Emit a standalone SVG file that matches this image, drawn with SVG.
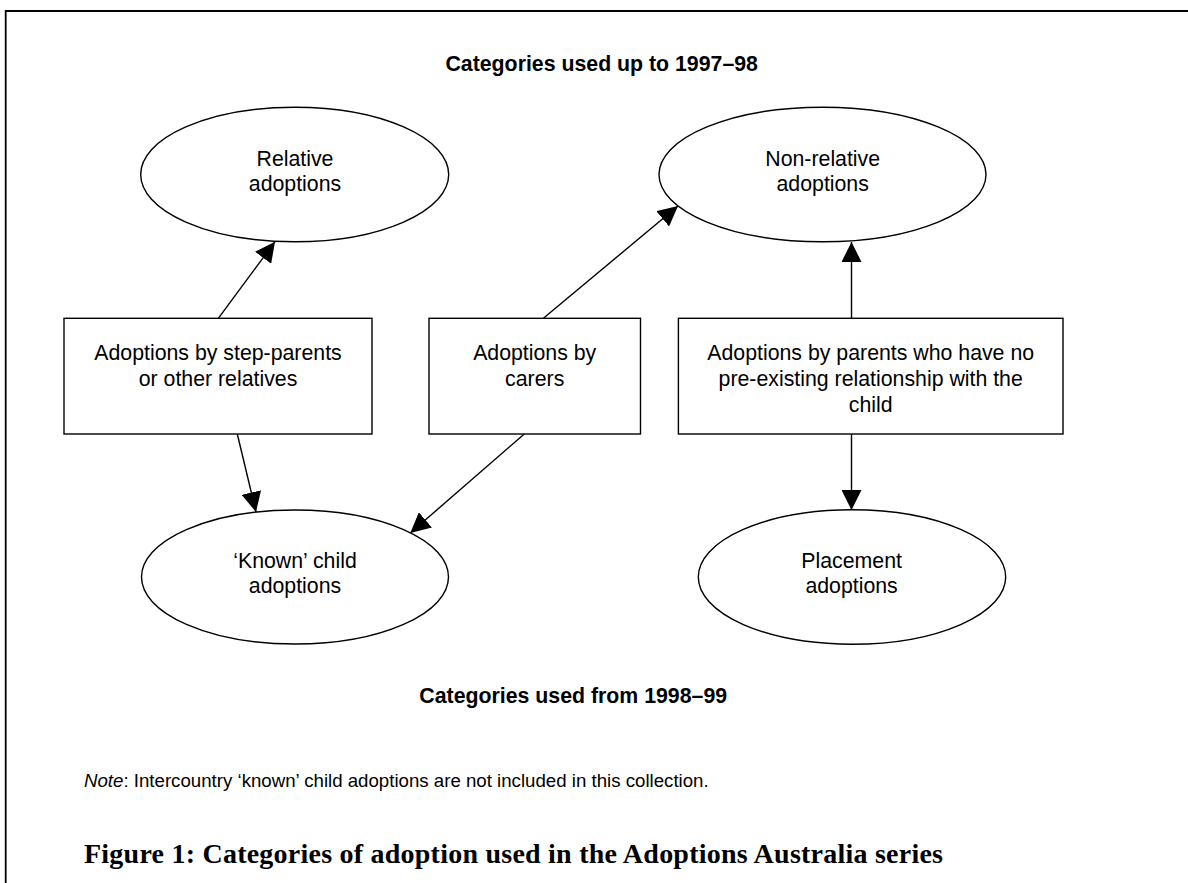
<svg xmlns="http://www.w3.org/2000/svg" width="1188" height="883" viewBox="0 0 1188 883">
<style>
.shape{fill:#fff;stroke:#000;stroke-width:1.4}
.lbl{font-family:"Liberation Sans",Arial,sans-serif;font-size:21.3px;fill:#000;text-anchor:middle}
.hdr{font-family:"Liberation Sans",Arial,sans-serif;font-size:21.3px;font-weight:bold;fill:#000;text-anchor:middle}
.note{font-family:"Liberation Sans",Arial,sans-serif;font-size:18.67px;fill:#000}
.cap{font-family:"Liberation Serif","Times New Roman",serif;font-size:28px;font-weight:bold;fill:#000}
.conn{stroke:#000;stroke-width:1.4;fill:none;marker-end:url(#arr)}
</style>
<defs>
<marker id="arr" markerUnits="userSpaceOnUse" markerWidth="20" markerHeight="20" refX="20" refY="10" orient="auto">
<path d="M0,0 L20,10 L0,20 Z" fill="#000"/>
</marker>
</defs>
<rect width="1188" height="883" fill="#fff"/>
<path d="M5.7,883 V11 H1188" fill="none" stroke="#000" stroke-width="1.8"/>

<text class="hdr" x="601.7" y="70.5">Categories used up to 1997–98</text>

<g id="connectors">
<line class="conn" x1="218.3" y1="318.3" x2="275" y2="241.7"/>
<line class="conn" x1="543.4" y1="318.3" x2="678" y2="206"/>
<line class="conn" x1="851.5" y1="318.3" x2="851.5" y2="242"/>
<line class="conn" x1="237.3" y1="434" x2="256" y2="512"/>
<line class="conn" x1="524.3" y1="434" x2="410.3" y2="533"/>
<line class="conn" x1="851.5" y1="434" x2="851.5" y2="510"/>
</g>

<g id="relative">
<ellipse class="shape" cx="294.7" cy="174.5" rx="154" ry="67.2"/>
<text class="lbl" x="295" y="165.7">Relative</text>
<text class="lbl" x="295" y="190.7">adoptions</text>
</g>

<g id="nonrelative">
<ellipse class="shape" cx="822.5" cy="174.5" rx="163.5" ry="67.3"/>
<text class="lbl" x="822.7" y="165.7">Non-relative</text>
<text class="lbl" x="822.7" y="190.7">adoptions</text>
</g>

<g id="box-step">
<rect class="shape" x="64" y="318.3" width="308" height="115.7"/>
<text class="lbl" x="218" y="359.5">Adoptions by step-parents</text>
<text class="lbl" x="218" y="385.5">or other relatives</text>
</g>

<g id="box-carers">
<rect class="shape" x="429" y="318.3" width="211.5" height="115.7"/>
<text class="lbl" x="534.7" y="359.5">Adoptions by</text>
<text class="lbl" x="534.7" y="385.5">carers</text>
</g>

<g id="box-parents">
<rect class="shape" x="678.4" y="318.3" width="384.6" height="115.7"/>
<text class="lbl" x="870.7" y="359.5">Adoptions by parents who have no</text>
<text class="lbl" x="870.7" y="385.7">pre-existing relationship with the</text>
<text class="lbl" x="870.7" y="411.7">child</text>
</g>

<g id="known">
<ellipse class="shape" cx="295" cy="577" rx="153.5" ry="67"/>
<text class="lbl" x="295" y="568.3">‘Known’ child</text>
<text class="lbl" x="295" y="593.3">adoptions</text>
</g>

<g id="placement">
<ellipse class="shape" cx="852" cy="577" rx="153.7" ry="67.2"/>
<text class="lbl" x="851.6" y="568.3">Placement</text>
<text class="lbl" x="851.6" y="593.3">adoptions</text>
</g>

<text class="hdr" x="573.2" y="702.7">Categories used from 1998–99</text>

<text class="note" x="84" y="787"><tspan font-style="italic">Note</tspan>: Intercountry ‘known’ child adoptions are not included in this collection.</text>

<text class="cap" x="84" y="863" textLength="859" lengthAdjust="spacing">Figure 1: Categories of adoption used in the Adoptions Australia series</text>
</svg>
